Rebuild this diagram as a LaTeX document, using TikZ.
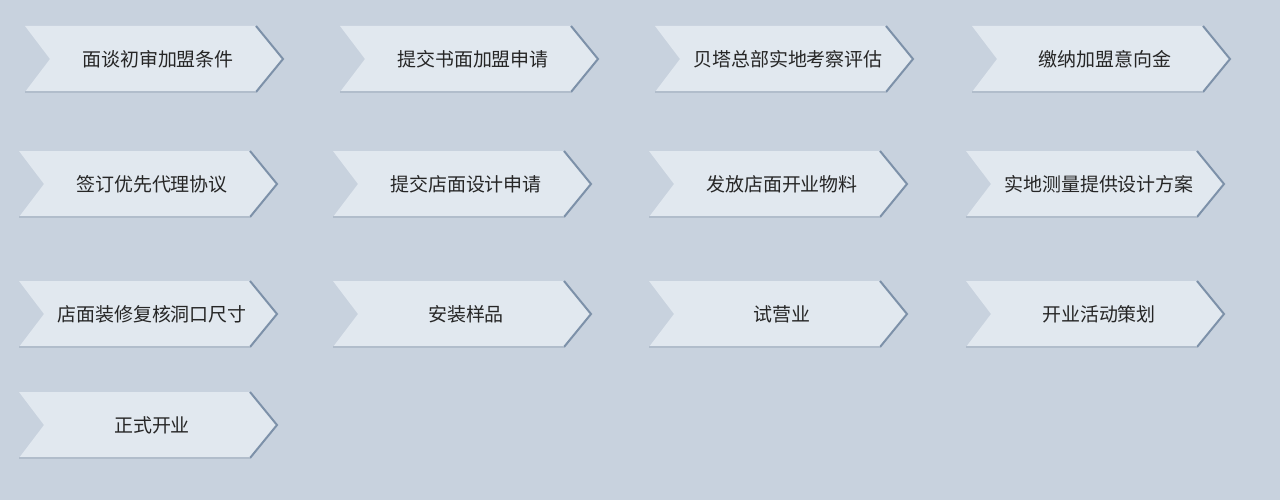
\documentclass[tikz,border=0pt]{standalone}
\usepackage{fontspec}
\newfontfamily\cjk{Noto Sans CJK SC}
\definecolor{bgblue}{HTML}{C8D2DE}
\definecolor{chevfill}{HTML}{E1E8EF}
\definecolor{chevedge}{HTML}{7D91A9}
\tikzset{
  chevtext/.style={font=\cjk\fontsize{10.8}{12}\selectfont, text=black!85},
}
% one chevron: left x, top y (pixels), name, text
\newcommand{\chevbox}[4]{%
  \fill[chevfill] (#1,-#2) -- (#1+231,-#2) -- (#1+258,-#2-33) -- (#1+231,-#2-66)
    -- (#1,-#2-66) -- (#1+25,-#2-33) -- cycle;
  \draw[chevedge, line width=0.04cm] (#1+231,-#2) -- (#1+258,-#2-33) -- (#1+231,-#2-66);
  \draw[chevedge!60, line width=0.03cm] (#1,-#2-66) -- (#1+231,-#2-66);
  \node[chevtext] (#3) at (#1+133,-#2-33) {#4};
}
\begin{document}
\begin{tikzpicture}[x=0.02cm, y=0.02cm]
  \fill[bgblue] (0,0) rectangle (1280,-500);
  % first row
  \chevbox{25}{26}{s1}{面谈初审加盟条件}
  \chevbox{340}{26}{s2}{提交书面加盟申请}
  \chevbox{655}{26}{s3}{贝塔总部实地考察评估}
  \chevbox{972}{26}{s4}{缴纳加盟意向金}
  % second row
  \chevbox{19}{151}{s5}{签订优先代理协议}
  \chevbox{333}{151}{s6}{提交店面设计申请}
  \chevbox{649}{151}{s7}{发放店面开业物料}
  \chevbox{966}{151}{s8}{实地测量提供设计方案}
  % third row
  \chevbox{19}{281}{s9}{店面装修复核洞口尺寸}
  \chevbox{333}{281}{s10}{安装样品}
  \chevbox{649}{281}{s11}{试营业}
  \chevbox{966}{281}{s12}{开业活动策划}
  % last row
  \chevbox{19}{392}{s13}{正式开业}
\end{tikzpicture}
\end{document}
